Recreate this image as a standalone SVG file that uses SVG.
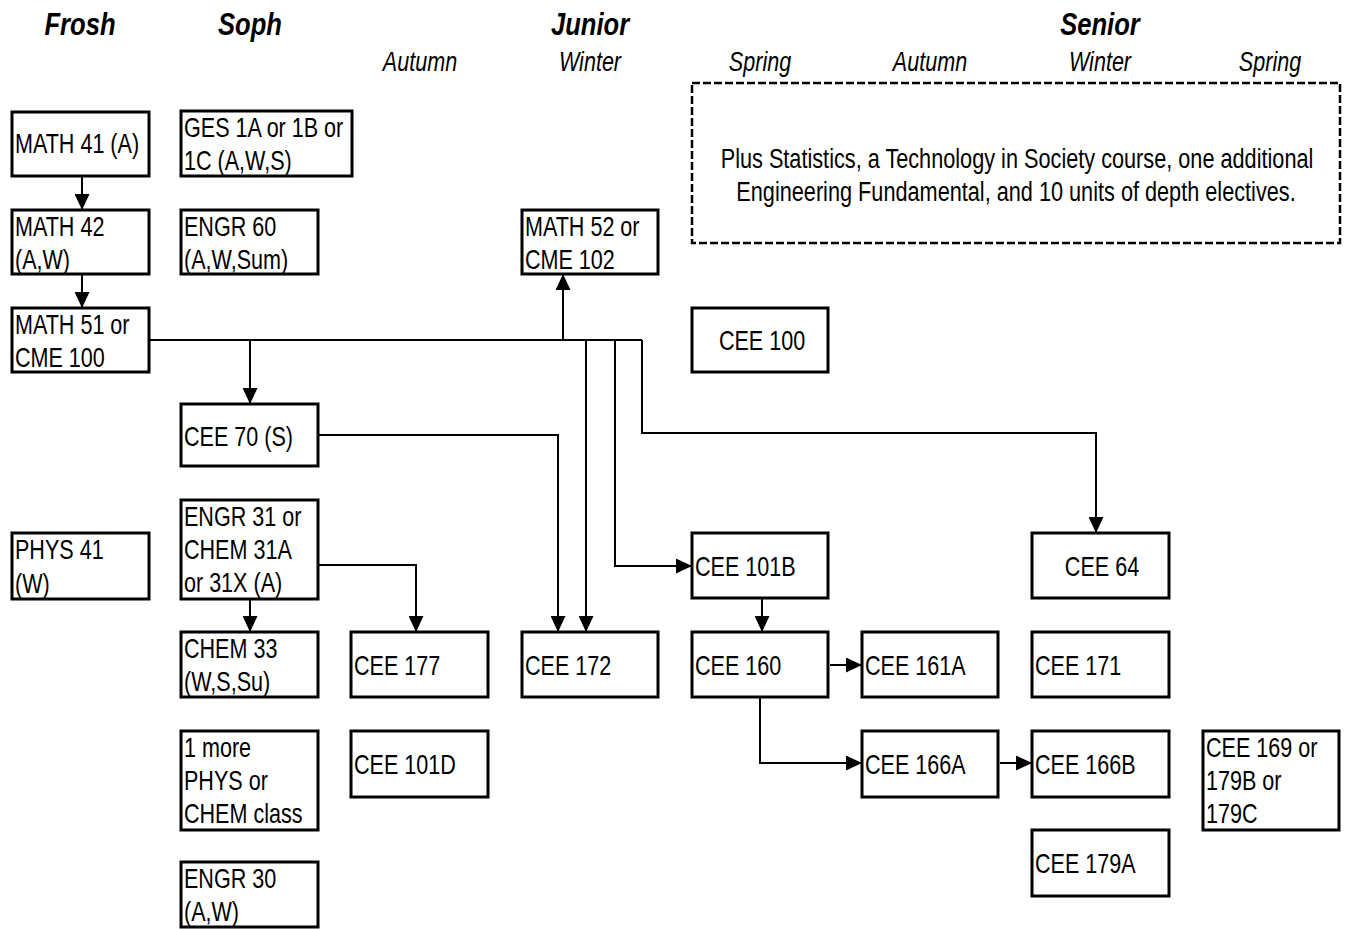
<svg xmlns="http://www.w3.org/2000/svg" width="1345" height="929" viewBox="0 0 1345 929">
  <style>
    .box { fill: #fff; stroke: #000; stroke-width: 3; }
    .note { fill: none; stroke: #000; stroke-width: 2.5; stroke-dasharray: 8 3; }
    .t { font-family: "Liberation Sans", Arial, sans-serif; font-size: 28px; fill: #000; }
    .c { text-anchor: middle; }
    .yr { font-family: "Liberation Sans", Arial, sans-serif; font-size: 32px; font-weight: bold; font-style: italic; text-anchor: middle; }
    .qt { font-family: "Liberation Sans", Arial, sans-serif; font-size: 28px; font-style: italic; text-anchor: middle; }
    .conn path { fill: none; stroke: #000; stroke-width: 2; }
  </style>
  <defs>
    <marker id="arrow" markerUnits="userSpaceOnUse" markerWidth="16" markerHeight="15" refX="16" refY="7.5" orient="auto">
      <path d="M0,0 L16,7.5 L0,15 Z" fill="#000"/>
    </marker>
  </defs>
  <rect width="1345" height="929" fill="#fff"/>

  <!-- year and quarter headings -->
  <g id="headings">
    <text class="yr" transform="translate(80 35) scale(.8 1)">Frosh</text>
    <text class="yr" transform="translate(250 35) scale(.8 1)">Soph</text>
    <text class="yr" transform="translate(590 35) scale(.8 1)">Junior</text>
    <text class="yr" transform="translate(1100 35) scale(.8 1)">Senior</text>
    <text class="qt" transform="translate(420 71) scale(.77 1)">Autumn</text>
    <text class="qt" transform="translate(590 71) scale(.77 1)">Winter</text>
    <text class="qt" transform="translate(760 71) scale(.77 1)">Spring</text>
    <text class="qt" transform="translate(930 71) scale(.77 1)">Autumn</text>
    <text class="qt" transform="translate(1100 71) scale(.77 1)">Winter</text>
    <text class="qt" transform="translate(1270 71) scale(.77 1)">Spring</text>
  </g>

  <!-- connectors -->
  <g id="connectors" class="conn">
    <path d="M82,176 V210" marker-end="url(#arrow)"/>
    <path d="M82,274 V308" marker-end="url(#arrow)"/>
    <path d="M148,340 H642"/>
    <path d="M250,340 V404" marker-end="url(#arrow)"/>
    <path d="M563,340 V274" marker-end="url(#arrow)"/>
    <path d="M586,340 V632" marker-end="url(#arrow)"/>
    <path d="M615,340 V566 H692" marker-end="url(#arrow)"/>
    <path d="M642,340 V433 H1096 V533" marker-end="url(#arrow)"/>
    <path d="M318,435 H558 V632" marker-end="url(#arrow)"/>
    <path d="M318,565 H416 V632" marker-end="url(#arrow)"/>
    <path d="M250,599 V632" marker-end="url(#arrow)"/>
    <path d="M762,598 V632" marker-end="url(#arrow)"/>
    <path d="M830,665 H862" marker-end="url(#arrow)"/>
    <path d="M760,697 V763 H862" marker-end="url(#arrow)"/>
    <path d="M1000,763 H1032" marker-end="url(#arrow)"/>
  </g>

  <!-- notes -->
  <g id="notes">
    <rect class="note" x="692" y="83" width="648" height="160"/>
    <text class="t c" transform="translate(1017 168) scale(.775 1)">Plus Statistics, a Technology in Society course, one additional</text>
    <text class="t c" transform="translate(1016 201) scale(.775 1)">Engineering Fundamental, and 10 units of depth electives.</text>
  </g>

  <!-- course nodes -->
  <g id="math41">
    <rect class="box" x="12" y="112" width="137" height="64"/>
    <text class="t" transform="translate(15 153) scale(.77 1)">MATH 41 (A)</text>
  </g>
  <g id="ges1">
    <rect class="box" x="181" y="111" width="171" height="65"/>
    <text class="t" transform="translate(184 137) scale(.77 1)">GES 1A or 1B or</text>
    <text class="t" transform="translate(184 170) scale(.77 1)">1C (A,W,S)</text>
  </g>
  <g id="math42">
    <rect class="box" x="12" y="210" width="137" height="64"/>
    <text class="t" transform="translate(15 236) scale(.77 1)">MATH 42</text>
    <text class="t" transform="translate(15 269) scale(.77 1)">(A,W)</text>
  </g>
  <g id="engr60">
    <rect class="box" x="181" y="210" width="137" height="64"/>
    <text class="t" transform="translate(184 236) scale(.77 1)">ENGR 60</text>
    <text class="t" transform="translate(184 269) scale(.77 1)">(A,W,Sum)</text>
  </g>
  <g id="math51">
    <rect class="box" x="12" y="308" width="137" height="64"/>
    <text class="t" transform="translate(15 334) scale(.77 1)">MATH 51 or</text>
    <text class="t" transform="translate(15 367) scale(.77 1)">CME 100</text>
  </g>
  <g id="math52">
    <rect class="box" x="522" y="210" width="136" height="64"/>
    <text class="t" transform="translate(525 236) scale(.77 1)">MATH 52 or</text>
    <text class="t" transform="translate(525 269) scale(.77 1)">CME 102</text>
  </g>
  <g id="cee100">
    <rect class="box" x="692" y="308" width="136" height="64"/>
    <text class="t c" transform="translate(762 350) scale(.77 1)">CEE 100</text>
  </g>
  <g id="cee70">
    <rect class="box" x="181" y="404" width="137" height="62"/>
    <text class="t" transform="translate(184 446) scale(.77 1)">CEE 70 (S)</text>
  </g>
  <g id="engr31">
    <rect class="box" x="181" y="500" width="137" height="99"/>
    <text class="t" transform="translate(184 526) scale(.77 1)">ENGR 31 or</text>
    <text class="t" transform="translate(184 559) scale(.77 1)">CHEM 31A</text>
    <text class="t" transform="translate(184 592) scale(.77 1)">or 31X (A)</text>
  </g>
  <g id="phys41">
    <rect class="box" x="12" y="533" width="137" height="66"/>
    <text class="t" transform="translate(15 559) scale(.77 1)">PHYS 41</text>
    <text class="t" transform="translate(15 593) scale(.77 1)">(W)</text>
  </g>
  <g id="cee101b">
    <rect class="box" x="692" y="533" width="136" height="65"/>
    <text class="t" transform="translate(695 576) scale(.77 1)">CEE 101B</text>
  </g>
  <g id="cee64">
    <rect class="box" x="1032" y="533" width="137" height="65"/>
    <text class="t c" transform="translate(1102 576) scale(.77 1)">CEE 64</text>
  </g>
  <g id="chem33">
    <rect class="box" x="181" y="632" width="137" height="65"/>
    <text class="t" transform="translate(184 658) scale(.77 1)">CHEM 33</text>
    <text class="t" transform="translate(184 691) scale(.77 1)">(W,S,Su)</text>
  </g>
  <g id="cee177">
    <rect class="box" x="351" y="632" width="137" height="65"/>
    <text class="t" transform="translate(354 675) scale(.77 1)">CEE 177</text>
  </g>
  <g id="cee172">
    <rect class="box" x="522" y="632" width="136" height="65"/>
    <text class="t" transform="translate(525 675) scale(.77 1)">CEE 172</text>
  </g>
  <g id="cee160">
    <rect class="box" x="692" y="632" width="136" height="65"/>
    <text class="t" transform="translate(695 675) scale(.77 1)">CEE 160</text>
  </g>
  <g id="cee161a">
    <rect class="box" x="862" y="632" width="136" height="65"/>
    <text class="t" transform="translate(865 675) scale(.77 1)">CEE 161A</text>
  </g>
  <g id="cee171">
    <rect class="box" x="1032" y="632" width="137" height="65"/>
    <text class="t" transform="translate(1035 675) scale(.77 1)">CEE 171</text>
  </g>
  <g id="physchem">
    <rect class="box" x="181" y="731" width="137" height="99"/>
    <text class="t" transform="translate(184 757) scale(.77 1)">1 more</text>
    <text class="t" transform="translate(184 790) scale(.77 1)">PHYS or</text>
    <text class="t" transform="translate(184 823) scale(.77 1)">CHEM class</text>
  </g>
  <g id="cee101d">
    <rect class="box" x="351" y="731" width="137" height="66"/>
    <text class="t" transform="translate(354 774) scale(.77 1)">CEE 101D</text>
  </g>
  <g id="cee166a">
    <rect class="box" x="862" y="731" width="136" height="66"/>
    <text class="t" transform="translate(865 774) scale(.77 1)">CEE 166A</text>
  </g>
  <g id="cee166b">
    <rect class="box" x="1032" y="731" width="137" height="66"/>
    <text class="t" transform="translate(1035 774) scale(.77 1)">CEE 166B</text>
  </g>
  <g id="cee169">
    <rect class="box" x="1203" y="731" width="136" height="99"/>
    <text class="t" transform="translate(1206 757) scale(.77 1)">CEE 169 or</text>
    <text class="t" transform="translate(1206 790) scale(.77 1)">179B or</text>
    <text class="t" transform="translate(1206 823) scale(.77 1)">179C</text>
  </g>
  <g id="cee179a">
    <rect class="box" x="1032" y="830" width="137" height="66"/>
    <text class="t" transform="translate(1035 873) scale(.77 1)">CEE 179A</text>
  </g>
  <g id="engr30">
    <rect class="box" x="181" y="862" width="137" height="65"/>
    <text class="t" transform="translate(184 888) scale(.77 1)">ENGR 30</text>
    <text class="t" transform="translate(184 921) scale(.77 1)">(A,W)</text>
  </g>
</svg>
